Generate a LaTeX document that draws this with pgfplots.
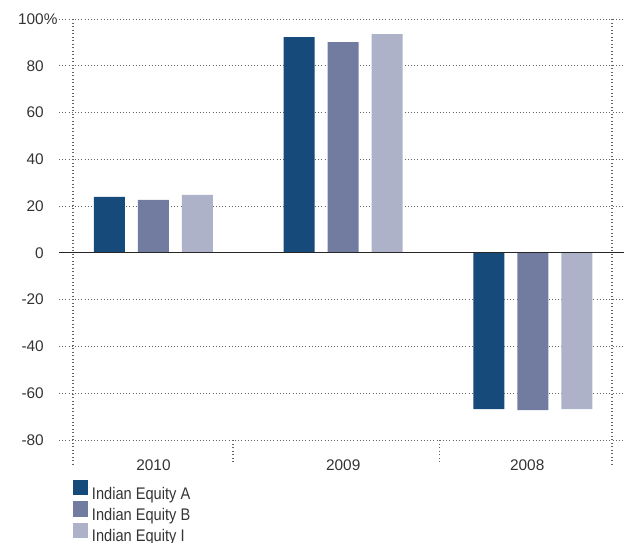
\documentclass[border=0pt]{standalone}
\usepackage{pgfplots}
\pgfplotsset{compat=1.18}
\usepackage{fontspec}
\setmainfont{Liberation Sans}
\newfontfamily\legfont[FakeStretch=0.87]{Liberation Sans}
\definecolor{eqA}{RGB}{22,74,122}
\definecolor{eqB}{RGB}{113,124,160}
\definecolor{eqI}{RGB}{173,178,200}
\definecolor{txt}{RGB}{51,51,51}
\definecolor{gridc}{RGB}{100,100,100}
\begin{document}
\begin{tikzpicture}
\path[use as bounding box] (-59pt,-102pt) rectangle (565pt,440pt);
\begin{axis}[
  at={(0pt,0pt)}, anchor=south west,
  scale only axis, width=565pt, height=421pt,
  xmin=-0.498, xmax=2.48, ymin=-80, ymax=100,
  ybar=13pt, bar width=31pt,
  axis line style={draw=none},
  tick style={draw=none},
  xtick={0,1,1.97}, xticklabels={2010,2009,2008},
  ytick={-80,-60,-40,-20,0,20,40,60,80,100},
  yticklabels={-80,-60,-40,-20,0,20,40,60,80,100\rlap{\%}},
  ymajorgrids, grid style={gridc, line width=0.9pt, dash pattern=on 0.9pt off 2.3pt},
  ticklabel style={font=\fontsize{15.4}{18}\selectfont, text=txt, inner sep=0pt},
  yticklabel style={anchor=east, xshift=-15pt},
  xticklabel style={anchor=base, yshift=-26pt},
  clip=false,
  legend cell align=left,
  legend style={draw=none, fill=none, at={(axis description cs:0.0242,-0.095)}, anchor=north west,
    inner sep=0pt, outer sep=0pt, row sep=-1.5pt,
    nodes={inner sep=0pt, text height=12pt, text depth=3.5pt, font=\legfont\fontsize{16.8}{20}\selectfont, text=txt}},
]
\addplot[fill=eqA, draw=none, legend image code/.code={\fill[eqA] (0pt,-0.3pt) rectangle (15.5pt,15pt); \path (19.3pt,0pt);}]
  coordinates {(0,24) (1,92.2) (2,-66.8)};
\addplot[fill=eqB, draw=none, legend image code/.code={\fill[eqB] (0pt,-0.3pt) rectangle (15.5pt,15pt); \path (19.3pt,0pt);}]
  coordinates {(0,22.7) (1,90.1) (2,-67.2)};
\addplot[fill=eqI, draw=none, legend image code/.code={\fill[eqI] (0pt,-0.3pt) rectangle (15.5pt,15pt); \path (19.3pt,0pt);}]
  coordinates {(0,24.8) (1,93.5) (2,-66.8)};
\legend{Indian Equity A, Indian Equity B, Indian Equity I}
\draw[black!85, line width=1.2pt] (axis cs:-0.498,0) -- (axis cs:2.48,0);
\draw[gridc, line width=1.6pt, dash pattern=on 1.2pt off 2.3pt] (axis cs:-0.424,100) -- (axis cs:-0.424,-90.6);
\draw[gridc, line width=1.6pt, dash pattern=on 1.2pt off 2.3pt] (axis cs:2.416,100) -- (axis cs:2.416,-90.6);
\draw[gridc, line width=1.6pt, dash pattern=on 1.2pt off 2.3pt] (axis cs:0.419,-80) -- (axis cs:0.419,-89.5);
\draw[gridc, line width=1.6pt, dash pattern=on 1.2pt off 2.3pt] (axis cs:1.507,-80) -- (axis cs:1.507,-89.5);
\end{axis}
\end{tikzpicture}
\end{document}
